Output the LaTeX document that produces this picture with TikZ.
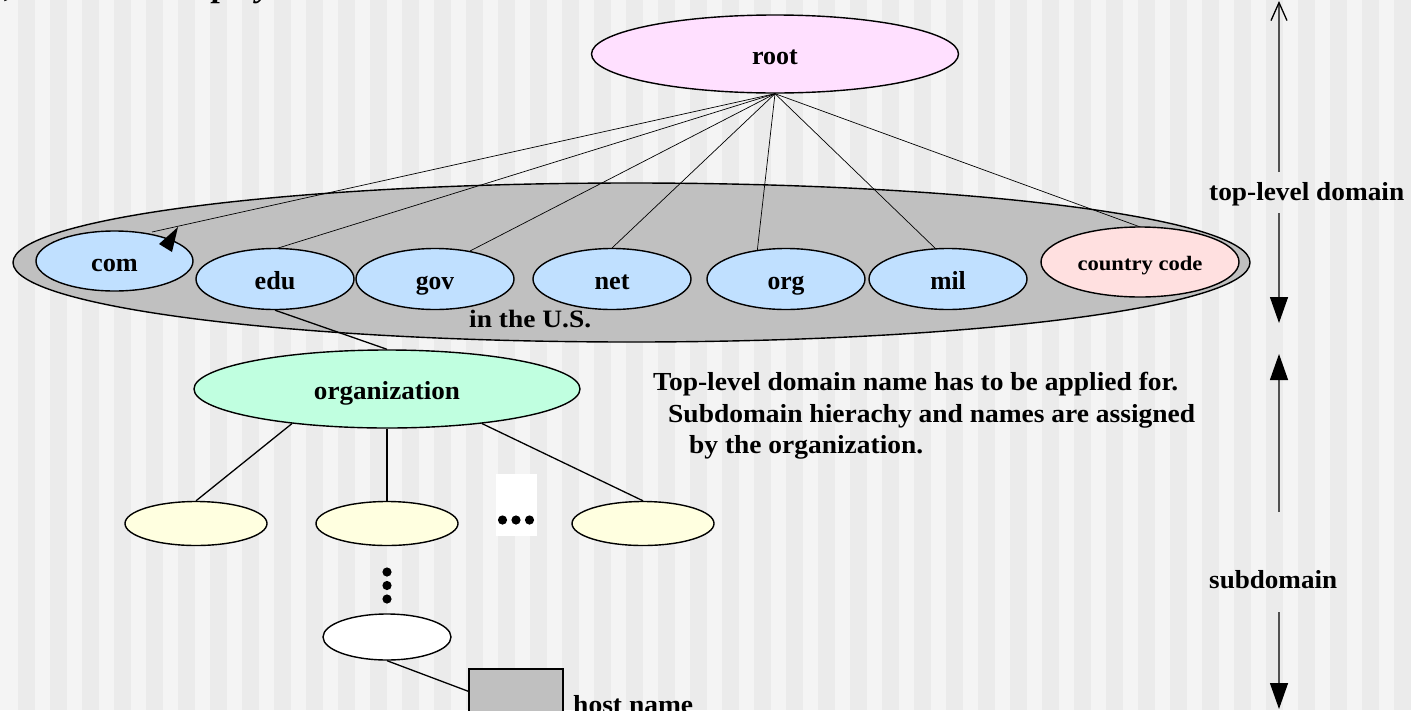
\documentclass[tikz,border=0pt]{standalone}
\usepackage{fontspec}
\setmainfont{Liberation Serif}
\usetikzlibrary{arrows.meta,calc,shapes.geometric}
\newcommand{\fitw}[2]{\resizebox{#1}{\height}{#2}}
\definecolor{bglight}{HTML}{F4F4F4}
\definecolor{bgdark}{HTML}{EBEBEB}
\definecolor{rootpink}{HTML}{FFE0FF}
\definecolor{tldblue}{HTML}{C0E0FF}
\definecolor{ccpink}{HTML}{FFE0E0}
\definecolor{usgray}{HTML}{C0C0C0}
\definecolor{orgmint}{HTML}{C0FFE0}
\definecolor{subyellow}{HTML}{FFFFE0}
\definecolor{scalegray}{HTML}{505050}
\begin{document}
\begin{tikzpicture}[x=1pt,y=-1pt,
  oval/.style={ellipse,draw=black,line width=1.4pt,inner sep=0pt,text height=21pt,text depth=0pt,
    font=\bfseries\fontsize{26}{26}\selectfont},
  tld/.style={oval,fill=tldblue,minimum width=158pt,minimum height=61pt},
  sub/.style={oval,fill=subyellow,minimum width=142pt,minimum height=44pt},
  lbl/.style={inner sep=0pt,anchor=base west,font=\bfseries\fontsize{26}{26}\selectfont},
  thinlink/.style={line width=0.7pt},
  link/.style={line width=1.3pt},
  scaleline/.style={draw=scalegray,line width=1.3pt},
  downtip/.style={-{Triangle[length=26pt,width=18pt,color=black]}},
  dot/.style={fill=black}
]
\useasboundingbox (0,0) rectangle (1411,710);
% background stripes
\fill[bglight] (0,0) rectangle (1411,710);
\foreach \i in {0,...,43} \fill[bgdark] ({18+32*\i},0) rectangle ({34.5+32*\i},710);

% cut-off title (only descenders visible)
\node[anchor=base west,inner sep=0pt,font=\bfseries\itshape\fontsize{34}{34}\selectfont] (ttla) at (5,-4) {,};
\node[anchor=base west,inner sep=0pt,font=\bfseries\itshape\fontsize{34}{34}\selectfont] (ttlb) at (213,-4) {play};

% nodes
\node[oval,fill=usgray,minimum width=1237pt,minimum height=159pt] (us) at (631.5,262.5) {};
\node[oval,fill=rootpink,minimum width=367pt,minimum height=78pt] (root) at (775,54) {\fitw{45.7pt}{root}};

% root links (drawn under the TLD ovals)
\draw[thinlink] (root.south) -- (152,232);
\draw[thinlink] (root.south) -- (275,249);
\draw[thinlink] (root.south) -- (470,251);
\draw[thinlink] (root.south) -- (612,248);
\draw[thinlink] (root.south) -- (757,253);
\draw[thinlink] (root.south) -- (937,250);
\draw[thinlink] (root.south) -- (1143,228);

\node[tld,minimum width=157pt,minimum height=60pt] (com) at (114.5,261) {\fitw{46.7pt}{com}};
\node[tld] (edu) at (275,279) {\fitw{40.7pt}{edu}};
\node[tld] (gov) at (435,279) {\fitw{38.3pt}{gov}};
\node[tld] (net) at (612,279) {\fitw{35pt}{net}};
\node[tld] (torg) at (786,279) {\fitw{37pt}{org}};
\node[tld] (mil) at (948,279) {\fitw{35.5pt}{mil}};
\node[oval,fill=ccpink,minimum width=198pt,minimum height=70pt,text height=16pt,
  font=\bfseries\fontsize{20.5}{20.5}\selectfont] (cc) at (1140,262) {\fitw{125pt}{country code}};

% arrowhead on the com link
\fill (159,244) -- (178,227) -- (172,252) -- cycle;

\node[lbl,font=\bfseries\fontsize{25}{25}\selectfont] (inus) at (469,327) {\fitw{122pt}{in the U.S.}};

% organization level
\node[oval,fill=orgmint,minimum width=386pt,minimum height=78pt] (orgn) at (387,389) {\fitw{146pt}{organization}};
\draw[link] (edu.south) -- (orgn.north);

\node[sub] (y1) at (196,523.5) {};
\node[sub] (y2) at (387,523.5) {};
\node[sub] (y3) at (643,523.5) {};
\draw[link] (orgn.200) -- (y1.north);
\draw[link] (orgn.south) -- (y2.north);
\draw[link] (orgn.-20) -- (y3.north);

% horizontal ellipsis
\node[fill=white,inner sep=0pt,minimum width=41pt,minimum height=62pt] (hdots) at (516.5,505) {};
\fill[dot] (502.5,520) circle[radius=4.6pt];
\fill[dot] (516,520) circle[radius=4.6pt];
\fill[dot] (529.5,520) circle[radius=4.6pt];
% vertical ellipsis
\fill[dot] (387,572) circle[radius=4.6pt];
\fill[dot] (387,585.5) circle[radius=4.6pt];
\fill[dot] (387,599) circle[radius=4.6pt];

\node[oval,fill=white,minimum width=128pt,minimum height=46pt] (we) at (387,637) {};
\node[draw=black,line width=1.4pt,fill=usgray,inner sep=0pt,minimum width=94pt,minimum height=100pt] (host) at (516,719) {};
\draw[link] (we.south) -- ($(host.north west)+(0,23)$);
\node[lbl] (hostname) at (573,713) {\fitw{120pt}{host name}};

% explanation
\node[lbl] (ex1) at (653,390) {\fitw{525pt}{Top-level domain name has to be applied for.}};
\node[lbl] (ex2) at (668,422) {\fitw{527pt}{Subdomain hierachy and names are assigned}};
\node[lbl] (ex3) at (689,453) {\fitw{234pt}{by the organization.}};

% right-hand scale
\node[lbl] (tl) at (1209,200) {\fitw{195pt}{top-level domain}};
\node[lbl] (sd) at (1209,588) {\fitw{128pt}{subdomain}};
\coordinate (s0) at (1279,1);
\coordinate (s1) at (1279,172);
\coordinate (s2) at (1279,213);
\coordinate (s3) at (1279,323);
\coordinate (s4) at (1279,354);
\coordinate (s5) at (1279,512);
\coordinate (s6) at (1279,612);
\coordinate (s7) at (1279,709);
\draw[scaleline,-{Straight Barb[length=18pt,width=16pt,color=black,line width=1.3pt]}] (s1) -- (s0);
\draw[scaleline,downtip] (s2) -- (s3);
\draw[scaleline,downtip] (s5) -- (s4);
\draw[scaleline,downtip] (s6) -- (s7);
\end{tikzpicture}
\end{document}
